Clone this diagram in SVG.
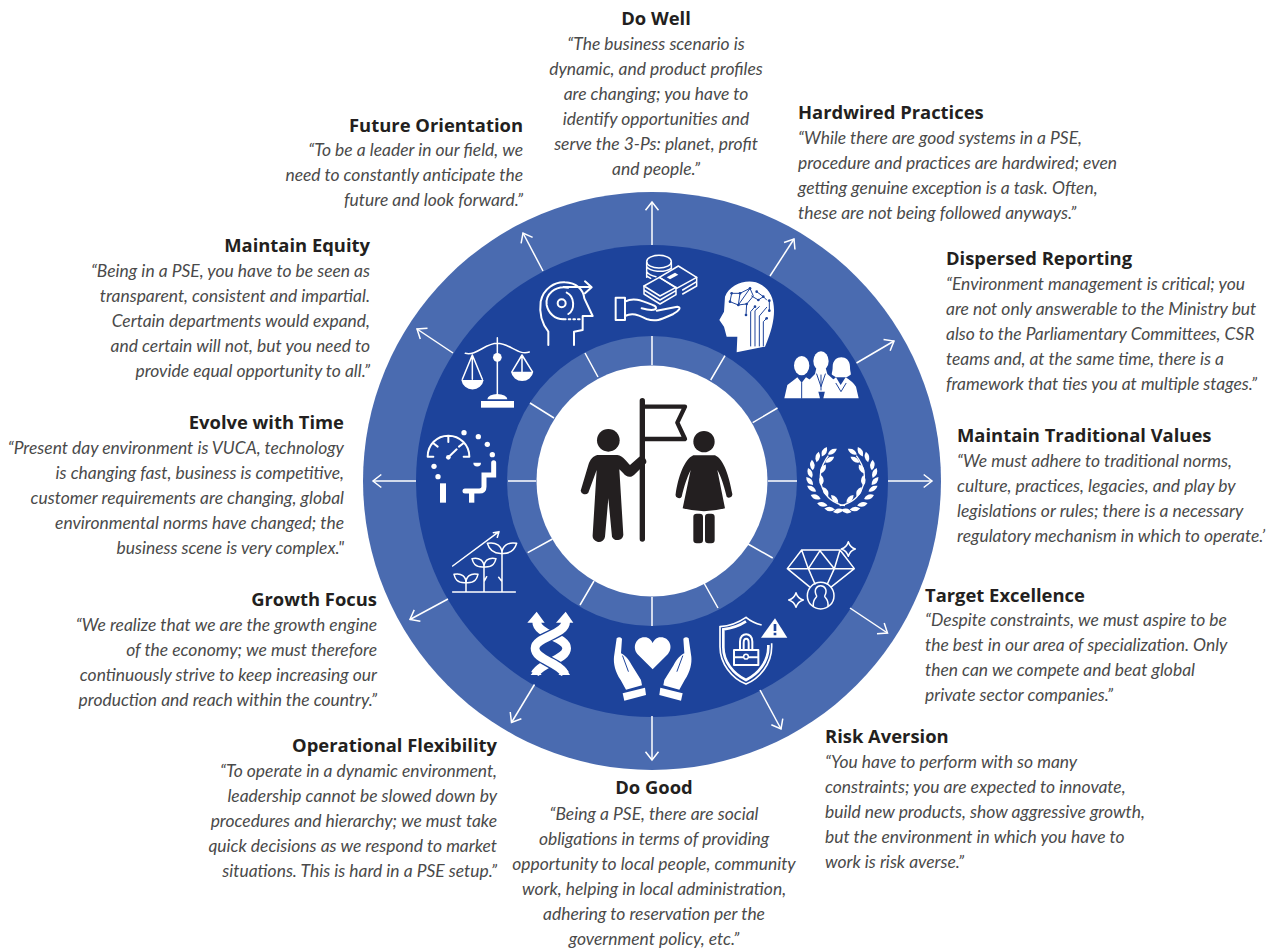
<svg xmlns="http://www.w3.org/2000/svg" width="1270" height="950" viewBox="0 0 1270 950">
<style>
text{font-family:"Open Sans","Liberation Sans",sans-serif}
.t{font-size:18.4px;font-weight:700;fill:#231f20}
.b{font-family:Lato,"Open Sans",sans-serif;font-size:17.45px;font-style:italic;font-weight:400;fill:#4a4a4a}
.r{text-anchor:end}
.c{text-anchor:middle}
.s{fill:none;stroke:#fff;stroke-width:1.5}
.ln{fill:none;stroke:#fff;stroke-width:6;stroke-linecap:round;stroke-linejoin:round}
.ln3{fill:none;stroke:#fff;stroke-width:4.500;stroke-linecap:round;stroke-linejoin:round}
.f{fill:#fff;stroke:none}
.bl{fill:none;stroke:#1d439b;stroke-width:3;stroke-linecap:round;stroke-linejoin:round}
.k{fill:#231f20}
</style>
<defs>
<marker id="a" markerUnits="userSpaceOnUse" markerWidth="20" markerHeight="20" refX="10" refY="10" orient="auto"><path d="M1.7,3.5L10,10L1.7,16.5" fill="none" stroke="#fff" stroke-width="1.5"/></marker>
<path id="leaf" d="M0,-16Q14,0 0,16Q-14,0 0,-16Z" fill="#fff"/>
<g id="branch">
<path d="M150,212C85,200 50,130 100,62" fill="none" stroke="#fff" stroke-width="4"/>
<use href="#leaf" transform="translate(88 50) rotate(28)"/><use href="#leaf" transform="translate(68 66) rotate(12)"/><use href="#leaf" transform="translate(52 90) rotate(-5)"/><use href="#leaf" transform="translate(45 114) rotate(-22)"/><use href="#leaf" transform="translate(44 138) rotate(-40)"/><use href="#leaf" transform="translate(50 161) rotate(-58)"/><use href="#leaf" transform="translate(62 186) rotate(-68)"/><use href="#leaf" transform="translate(82 208) rotate(-78)"/><use href="#leaf" transform="translate(104 222) rotate(-85)"/><use href="#leaf" transform="translate(130 228) rotate(-100)"/>
<use href="#leaf" transform="translate(112 50) rotate(58)"/><use href="#leaf" transform="translate(104 74) rotate(58)"/><use href="#leaf" transform="translate(84 102) rotate(32)"/><use href="#leaf" transform="translate(79 137) rotate(2)"/><use href="#leaf" transform="translate(92 170) rotate(-28)"/><use href="#leaf" transform="translate(119 192) rotate(-42)"/>
</g>
<g id="hand">
<path class="f" d="M350,325Q358,318 366,326L363,370C375,376 385,386 395,405L423,450L426,466L378,479L362,450C345,425 340,400 342,380Z"/>
<path class="bl" d="M368,378L385,424"/>
<path class="f" d="M368,490L435,473L438,495L373,512Z"/>
</g>
</defs>
<g id="rings">
<circle cx="652" cy="481" r="289" fill="#4a6bb0"/>
<circle cx="652" cy="481" r="236" fill="#1d439b"/>
<circle cx="652" cy="481" r="145" fill="#4a6bb0"/>
<circle cx="652" cy="481" r="115.500" fill="#fff"/>
</g>
<g id="connectors">
<path class="s" d="M652,365V336M710.7,380L725,355.7M752.7,422.7L777.5,408M768,481H797M748,544L772.7,558M704,583L718,608M652,597V626M594,581L580,605M552.5,539L527.7,552.7M536,481H508M554,418L530,403M598,377L585,353"/>
<g class="s">
<line x1="652" y1="245" x2="652" y2="202" marker-end="url(#a)"/>
<line x1="770" y1="276" x2="794" y2="239" marker-end="url(#a)"/>
<line x1="856.5" y1="363" x2="894" y2="341" marker-end="url(#a)"/>
<line x1="888" y1="481" x2="932" y2="481" marker-end="url(#a)"/>
<line x1="850" y1="608" x2="887.5" y2="633" marker-end="url(#a)"/>
<line x1="760" y1="690" x2="781" y2="729" marker-end="url(#a)"/>
<line x1="652" y1="716" x2="652" y2="760" marker-end="url(#a)"/>
<line x1="534.5" y1="684.5" x2="511.5" y2="722.5" marker-end="url(#a)"/>
<line x1="448" y1="599" x2="410" y2="619.5" marker-end="url(#a)"/>
<line x1="416" y1="481" x2="373" y2="481" marker-end="url(#a)"/>
<line x1="453" y1="353" x2="417" y2="329" marker-end="url(#a)"/>
<line x1="543" y1="271" x2="523" y2="233" marker-end="url(#a)"/>
</g>
</g>
<g id="icon-people-center" transform="translate(540 370) scale(.33333)">
<circle class="k" cx="205" cy="211" r="34"/>
<path class="k" d="M172,255L232,255C250,258 260,275 270,285L298,260C310,256 323,268 318,280L282,315C270,325 258,320 250,310L238,298L250,495A18,18 0 0 1 216,500L205,385L195,500A18,18 0 0 1 158,495L170,300L145,368A13,13 0 0 1 122,362L145,285C150,268 160,258 172,255Z"/>
<path d="M307,92V507" stroke="#231f20" stroke-width="16" stroke-linecap="round" fill="none"/>
<path d="M307,110H435L412,158L435,207H307" stroke="#231f20" stroke-width="13" stroke-linejoin="round" fill="none"/>
<circle class="k" cx="492" cy="215" r="32"/>
<path class="k" d="M460,256L525,256C552,268 567,320 577,372A10,10 0 0 1 560,380C550,340 542,318 532,300L555,415Q492,432 428,415L452,300C442,320 432,350 425,380A10,10 0 0 1 407,372C415,320 433,268 460,256Z"/>
<rect class="k" x="460" y="431" width="29" height="89" rx="10"/>
<rect class="k" x="495" y="431" width="29" height="89" rx="10"/>
</g>
<g id="icon-future" transform="translate(500 190) scale(.33333)">
<path class="ln" d="M145,465V425C125,400 118,365 122,335C130,295 165,275 195,277C230,278 250,300 253,325L278,378H248V420L222,425V465"/>
<path class="ln" d="M190,291H272M255,274L275,292L255,310M205,293C165,285 135,315 140,345C145,370 165,388 190,388"/>
<path class="ln" d="M192,388H240" stroke-dasharray="5 9"/>
<circle class="ln" cx="185" cy="340" r="12"/>
<path class="ln" d="M200,308C225,320 225,360 205,372"/>
</g>
<g id="icon-wealth" transform="translate(500 190) scale(.33333)">
<ellipse class="ln3" cx="477" cy="215" rx="37" ry="19"/>
<path class="ln3" d="M440,217V262M514,217V235M440,230C450,245 490,250 514,235M440,245C445,252 455,258 468,260M440,258L452,265"/>
<path class="ln3" d="M478,262L535,228L590,262L530,295Z"/>
<path class="ln3" d="M590,262V275L548,300M590,275V288L548,312"/>
<path class="ln3" d="M432,288L478,262L528,292L480,318Z"/>
<path class="ln3" d="M432,288V300L480,330L528,302V292M432,300V312L480,342L528,314V302"/>
<path class="f" d="M500,262L525,248L535,254L510,268Z"/>
<path class="ln" d="M347,323H375V390H347ZM375,335C400,322 420,330 458,345C478,352 470,368 425,355M375,378C400,365 420,378 440,387C470,398 490,385 520,372C538,362 545,352 532,350L470,362"/>
</g>
<g id="icon-brain" transform="translate(500 190) scale(.33333)">
<path class="f" d="M710,487L712,440L680,440L672,410L658,390L672,365L675,320C690,280 750,262 785,285C830,310 835,380 795,470Z"/>
<path class="bl" d="M752,468V365L765,350M765,468V362L778,350M778,468V378L800,352M790,468V395L800,385M690,335L695,310L720,310L750,295L760,318L740,342L738,375M715,345L750,295M690,335L715,345L738,342M770,305L790,320L775,330L755,318M790,320L800,330M808,332L808,362M720,310L715,345"/>
<g fill="#1d439b"><circle cx="690" cy="335" r="4"/><circle cx="695" cy="310" r="4"/><circle cx="720" cy="310" r="4"/><circle cx="750" cy="295" r="4"/><circle cx="715" cy="345" r="4"/><circle cx="740" cy="342" r="4"/><circle cx="738" cy="375" r="4"/><circle cx="770" cy="305" r="4"/><circle cx="790" cy="320" r="4"/><circle cx="775" cy="330" r="4"/><circle cx="808" cy="332" r="4"/><circle cx="808" cy="362" r="4"/><circle cx="800" cy="385" r="4"/><circle cx="765" cy="350" r="4"/></g>
</g>
<g id="icon-team" transform="translate(500 190) scale(.33333)">
<path class="f" d="M925,572L945,552L950,530H976L982,552L1005,572L985,605H945Z"/>
<ellipse class="f" cx="963" cy="513" rx="23" ry="29"/>
<path class="bl" d="M963,555V600M950,552L963,590L976,552"/>
<ellipse class="f" cx="905" cy="527" rx="23" ry="29"/>
<path class="f" d="M853,625L862,585Q880,572 892,562L905,578L918,562Q940,575 950,585L960,625Z" stroke="#1d439b" stroke-width="3"/>
<path class="bl" d="M905,578V625"/>
<path class="f" d="M998,530C998,492 1050,492 1050,530C1050,545 1054,550 1052,554L1040,562H1008L996,554C994,550 998,545 998,530Z"/>
<path class="f" d="M970,625L978,590Q990,575 1008,562L1022,585L1037,562Q1058,575 1068,590L1076,625Z" stroke="#1d439b" stroke-width="3"/>
<path class="bl" d="M1008,580L1023,605L1038,580"/>
</g>
<g id="icon-laurel" transform="translate(795 435) scale(.33333)">
<use href="#branch"/>
<use href="#branch" transform="translate(284 0) scale(-1 1)"/>
</g>
<g id="icon-scales" transform="translate(400 260) scale(.33333)">
<rect class="f" x="243" y="423" width="99" height="20"/>
<path class="f" d="M262,418A30,16 0 0 1 322,418Z"/>
<circle class="f" cx="292" cy="292" r="13"/>
<path class="ln3" d="M292,233V405M196,280C230,288 255,250 292,250C330,250 355,288 388,276"/>
<path class="ln3" d="M217,285L187,358M217,285L247,358M217,285V358M366,285L336,335M366,285L397,335M366,285V335"/>
<path class="f" d="M184,360H251A34,34 0 0 1 184,360ZM333,335H400A34,34 0 0 1 333,335Z"/>
</g>
<g id="icon-gauge" transform="translate(400 260) scale(.33333)">
<path class="ln" d="M83,590C83,555 110,527 145,527C180,527 208,555 208,590M83,590H100M208,590H191M145,527V546M100,550L113,560M190,550L177,560"/>
<path class="ln" d="M145,592L170,568"/><circle class="f" cx="145" cy="592" r="7"/>
<g class="f"><circle cx="192" cy="518" r="8"/><circle cx="235" cy="530" r="8"/><circle cx="262" cy="553" r="8"/><circle cx="277" cy="584" r="8"/><circle cx="102" cy="619" r="8"/><circle cx="114" cy="650" r="8"/></g>
<rect class="f" x="120" y="670" width="18" height="58"/>
<path class="f" d="M220,608H243A11.500,11.500 0 0 1 220,608Z"/>
<path d="M281,608V645H252V680Q252,693 238,693H195" fill="none" stroke="#fff" stroke-width="15" stroke-linecap="round" stroke-linejoin="miter"/>
<rect class="f" x="207" y="695" width="16" height="33"/>
</g>
<g id="icon-growth" transform="translate(400 260) scale(.33333)">
<path class="ln3" d="M158,918L297,815M280,818L297,815L292,832M158,996H346M198,996V965M252,996V922M306,996V882M252,965L260,950M306,965L296,952"/>
<path class="ln3" d="M198,968C170,970 165,955 162,943C185,938 198,950 198,968ZM198,968C226,970 231,955 234,943C211,938 198,950 198,968ZM252,921C224,923 219,908 216,896C239,891 252,903 252,921ZM252,921C280,923 285,908 288,896C265,891 252,903 252,921ZM306,880C274,882 266,864 262,850C288,845 306,858 306,880ZM306,880C338,882 346,864 350,850C324,845 306,858 306,880Z"/>
</g>
<g id="icon-dna" transform="translate(500 530) scale(.33333)">
<path d="M110,275C110,315 200,320 200,355C200,390 125,395 105,432" fill="none" stroke="#fff" stroke-width="26"/>
<path d="M197,275C197,315 105,320 105,355C105,390 175,395 195,432" fill="none" stroke="#1d439b" stroke-width="34"/>
<path d="M197,275C197,315 105,320 105,355C105,390 175,395 195,432" fill="none" stroke="#fff" stroke-width="26"/>
<path class="f" d="M82,278L110,245L134,278ZM168,278L197,245L220,278Z"/>
<path class="f" d="M92,435H125L108,415ZM210,435H175L198,415Z"/>
</g>
<g id="icon-care" transform="translate(500 530) scale(.33333)">
<path class="f" d="M458,418L412,372C395,350 410,320 435,322C445,322 455,330 458,340C461,330 471,322 481,322C506,320 522,350 504,372Z"/>
<use href="#hand"/>
<use href="#hand" transform="translate(916 0) scale(-1 1)"/>
</g>
<g id="icon-shield" transform="translate(500 530) scale(.33333)">
<path d="M815,340V350C815,400 780,445 738,462C695,445 660,400 660,350V290C690,288 715,278 738,262C750,272 765,280 785,285" fill="none" stroke="#fff" stroke-width="5"/>
<path d="M805,345V352C805,395 775,432 738,450C700,432 670,395 670,352V298C695,295 718,287 738,274" fill="none" stroke="#fff" stroke-width="8"/>
<path class="ln" d="M702,360H775V405H702ZM702,382H728M748,382H775M720,358V335C720,305 757,305 757,335V358M731,358V338C731,322 746,322 746,338V358"/>
<circle class="ln3" cx="738" cy="380" r="7"/>
<path class="f" d="M783,323L825,265L862,323Z"/>
<path d="M821,282H829V303H821ZM821,308H829V316H821Z" fill="#1d439b"/>
</g>
<g id="icon-diamond" transform="translate(500 530) scale(.33333)">
<path class="ln3" d="M928,170L862,116L905,60H1020L1063,116L995,170M862,116H1063M905,60L925,116L945,162M960,62L925,116M960,62L1003,116L982,162M1020,60L1003,116"/>
<circle class="ln3" cx="962" cy="197" r="40"/>
<path class="ln3" d="M940,228C938,205 950,205 950,198C940,180 950,167 962,167C974,167 984,180 974,198C974,205 986,205 984,228"/>
<path class="ln3" d="M1045,35Q1050,52 1066,57Q1050,62 1045,79Q1040,62 1024,57Q1040,52 1045,35ZM888,188Q893,205 910,210Q893,215 888,232Q883,215 866,210Q883,205 888,188Z"/>
</g>
<g id="n-do-well">
<text class="t c" x="656" y="25">Do Well</text>
<text class="b c"><tspan x="656" y="50">“The business scenario is</tspan><tspan x="656" y="75">dynamic, and product profiles</tspan><tspan x="656" y="100">are changing; you have to</tspan><tspan x="656" y="125">identify opportunities and</tspan><tspan x="656" y="150">serve the 3-Ps: planet, profit</tspan><tspan x="656" y="175">and people.”</tspan></text>
</g>
<g id="n-hardwired">
<text class="t" x="798" y="119">Hardwired Practices</text>
<text class="b"><tspan x="798" y="144">“While there are good systems in a PSE,</tspan><tspan x="798" y="169">procedure and practices are hardwired; even</tspan><tspan x="798" y="194">getting genuine exception is a task. Often,</tspan><tspan x="798" y="219">these are not being followed anyways.”</tspan></text>
</g>
<g id="n-dispersed">
<text class="t" x="946" y="265">Dispersed Reporting</text>
<text class="b"><tspan x="946" y="290">“Environment management is critical; you</tspan><tspan x="946" y="315">are not only answerable to the Ministry but</tspan><tspan x="946" y="340">also to the Parliamentary Committees, CSR</tspan><tspan x="946" y="365">teams and, at the same time, there is a</tspan><tspan x="946" y="390">framework that ties you at multiple stages.”</tspan></text>
</g>
<g id="n-traditional">
<text class="t" x="957" y="442">Maintain Traditional Values</text>
<text class="b"><tspan x="957" y="467">“We must adhere to traditional norms,</tspan><tspan x="957" y="492">culture, practices, legacies, and play by</tspan><tspan x="957" y="517">legislations or rules; there is a necessary</tspan><tspan x="957" y="542">regulatory mechanism in which to operate.’</tspan></text>
</g>
<g id="n-excellence">
<text class="t" x="925" y="602">Target Excellence</text>
<text class="b"><tspan x="925" y="626">“Despite constraints, we must aspire to be</tspan><tspan x="925" y="651">the best in our area of specialization. Only</tspan><tspan x="925" y="676">then can we compete and beat global</tspan><tspan x="925" y="701">private sector companies.”</tspan></text>
</g>
<g id="n-risk">
<text class="t" x="825" y="743">Risk Aversion</text>
<text class="b"><tspan x="825" y="768">“You have to perform with so many</tspan><tspan x="825" y="793">constraints; you are expected to innovate,</tspan><tspan x="825" y="818">build new products, show aggressive growth,</tspan><tspan x="825" y="843">but the environment in which you have to</tspan><tspan x="825" y="868">work is risk averse.”</tspan></text>
</g>
<g id="n-do-good">
<text class="t c" x="654" y="794">Do Good</text>
<text class="b c"><tspan x="654" y="820">“Being a PSE, there are social</tspan><tspan x="654" y="845">obligations in terms of providing</tspan><tspan x="654" y="870">opportunity to local people, community</tspan><tspan x="654" y="895">work, helping in local administration,</tspan><tspan x="654" y="920">adhering to reservation per the</tspan><tspan x="654" y="945">government policy, etc.”</tspan></text>
</g>
<g id="n-flexibility">
<text class="t r" x="497" y="752">Operational Flexibility</text>
<text class="b r"><tspan x="497" y="777">“To operate in a dynamic environment,</tspan><tspan x="497" y="802">leadership cannot be slowed down by</tspan><tspan x="497" y="827">procedures and hierarchy; we must take</tspan><tspan x="497" y="852">quick decisions as we respond to market</tspan><tspan x="497" y="877">situations. This is hard in a PSE setup.”</tspan></text>
</g>
<g id="n-growth">
<text class="t r" x="377" y="606">Growth Focus</text>
<text class="b r"><tspan x="377" y="631">“We realize that we are the growth engine</tspan><tspan x="377" y="656">of the economy; we must therefore</tspan><tspan x="377" y="681">continuously strive to keep increasing our</tspan><tspan x="377" y="706">production and reach within the country.”</tspan></text>
</g>
<g id="n-evolve">
<text class="t r" x="344" y="429">Evolve with Time</text>
<text class="b r"><tspan x="344" y="454">“Present day environment is VUCA, technology</tspan><tspan x="344" y="479">is changing fast, business is competitive,</tspan><tspan x="344" y="504">customer requirements are changing, global</tspan><tspan x="344" y="529">environmental norms have changed; the</tspan><tspan x="344" y="554">business scene is very complex."</tspan></text>
</g>
<g id="n-equity">
<text class="t r" x="370" y="252">Maintain Equity</text>
<text class="b r"><tspan x="370" y="277">“Being in a PSE, you have to be seen as</tspan><tspan x="370" y="302">transparent, consistent and impartial.</tspan><tspan x="370" y="327">Certain departments would expand,</tspan><tspan x="370" y="352">and certain will not, but you need to</tspan><tspan x="370" y="377">provide equal opportunity to all.”</tspan></text>
</g>
<g id="n-future">
<text class="t r" x="523" y="132">Future Orientation</text>
<text class="b r"><tspan x="523" y="156">“To be a leader in our field, we</tspan><tspan x="523" y="181">need to constantly anticipate the</tspan><tspan x="523" y="206">future and look forward.”</tspan></text>
</g>
</svg>
